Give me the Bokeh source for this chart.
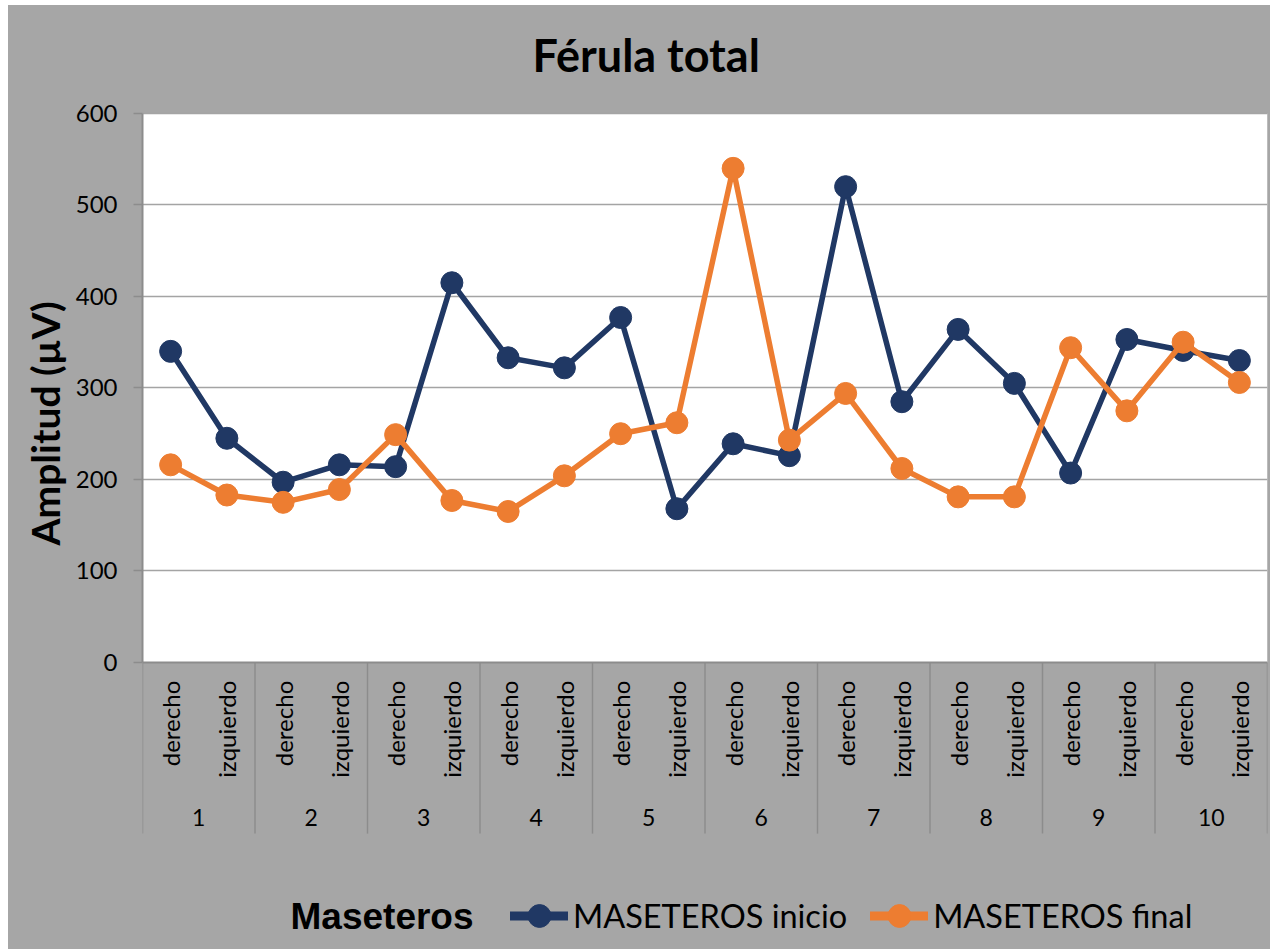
import math
from bokeh.plotting import figure
from bokeh.models import (FactorRange, Range1d, FixedTicker, BoxAnnotation, Span,
                          Legend, LegendItem, Label, Title, ColumnDataSource)
from bokeh.core.properties import value
from bokeh.embed import file_html
from bokeh.resources import INLINE

# ---------------- data ----------------
groups = ["1", "2", "3", "4", "5", "6", "7", "8", "9", "10"]
sides = ["derecho", "izquierdo"]
inicio = [340, 245, 197, 216, 214, 415, 333, 322, 377, 168,
          239, 226, 520, 285, 364, 305, 207, 353, 341, 330]
final = [216, 183, 175, 189, 249, 177, 165, 204, 250, 262,
         540, 243, 294, 212, 181, 181, 344, 275, 350, 306]
y_ticks = [0, 100, 200, 300, 400, 500, 600]
title_text = "Férula total"
y_title = "Amplitud (µV)"
x_title = "Maseteros"
series_names = ["MASETEROS inicio", "MASETEROS final"]

factors = [(g, s) for g in groups for s in sides]

BG = "#a6a6a6"
AXIS = "#8c8c8c"
GRID = "#a4a4a4"
BLUE = "#203864"
ORANGE = "#ed7d31"
FONT = "Lato"

# frame covers the whole chart area; the white plot region is 0..600
p = figure(x_range=FactorRange(*factors, factor_padding=0, group_padding=0, range_padding=0),
           y_range=Range1d(-313.7, 718.0),
           frame_width=1125, frame_height=944,
           min_border_left=134, min_border_right=3, min_border_top=0, min_border_bottom=0,
           margin=(5, 0, 0, 8),
           x_axis_location=None, output_backend="svg", toolbar_location=None)
p.title.visible = False

# gray under everything (no seams between frame and border)
p.styles = {"background-color": BG}
p.background_fill_alpha = 0
p.border_fill_color = BG
p.outline_line_color = None

# white plotting area (lowest level), grid above it
p.add_layout(BoxAnnotation(bottom=y_ticks[0], top=y_ticks[-1], fill_color="white", fill_alpha=1,
                           line_color=None, level="image"))
p.xgrid.visible = False
p.ygrid.ticker = FixedTicker(ticks=y_ticks[1:])
p.ygrid.grid_line_color = GRID
p.ygrid.grid_line_width = 1.5
p.add_layout(Span(location=0, dimension="width", line_color=AXIS, line_width=2))

# y axis
ax = p.yaxis[0]
ax.ticker = FixedTicker(ticks=y_ticks)
ax.bounds = (y_ticks[0], y_ticks[-1])
ax.axis_line_color = AXIS
ax.axis_line_width = 2
ax.major_tick_line_color = AXIS
ax.major_tick_line_width = 1.5
ax.major_tick_out = 9
ax.major_tick_in = 0
ax.minor_tick_line_color = None
ax.major_label_standoff = 16
ax.major_label_text_font = FONT
ax.major_label_text_font_size = "24px"
ax.major_label_text_color = "black"

# category separators
bounds_x = [(g, sides[0], -0.5) for g in groups] + [(groups[-1], sides[-1], 0.5)]
p.segment(x0=bounds_x, x1=bounds_x, y0=[0] * len(bounds_x), y1=[-187] * len(bounds_x),
          line_color=AXIS, line_width=1.5)

# category labels
p.text(x=factors, y=[-20] * len(factors), text=[f[1] for f in factors],
       angle=math.pi / 2, text_align="right", text_baseline="middle",
       text_font=value(FONT), text_font_size="24px", text_color="black")
p.text(x=groups, y=[-169.5] * len(groups), text=groups,
       text_align="center", text_baseline="middle",
       text_font=value(FONT), text_font_size="23px", text_color="black")

# series
src = ColumnDataSource(dict(x=factors, inicio=inicio, final=final))
l1 = p.line("x", "inicio", source=src, line_color=BLUE, line_width=5.5, line_join="round")
s1 = p.scatter("x", "inicio", source=src, size=22, fill_color=BLUE, line_color=BLUE)
l2 = p.line("x", "final", source=src, line_color=ORANGE, line_width=5.5, line_join="round")
s2 = p.scatter("x", "final", source=src, size=22, fill_color=ORANGE, line_color=ORANGE)

# legend-only line samples (thicker, as in the reference legend); NaN keeps them off the plot
dummy = ColumnDataSource(dict(x=[factors[0]], y=[float("nan")]))
k1 = p.line("x", "y", source=dummy, line_color=BLUE, line_width=9, line_cap="round")
k2 = p.line("x", "y", source=dummy, line_color=ORANGE, line_width=9, line_cap="round")

legend = Legend(items=[LegendItem(label=series_names[0], renderers=[k1, s1]),
                       LegendItem(label=series_names[1], renderers=[k2, s2])],
                orientation="horizontal", location=(368, 5),
                glyph_width=58, glyph_height=57, label_standoff=5, spacing=23,
                padding=0, margin=0, border_line_color=None, background_fill_alpha=0,
                label_text_font=FONT, label_text_font_size="32.5px", label_text_color="black")
p.add_layout(legend)

p.add_layout(Label(x=148, y=33, x_units="screen", y_units="screen", text=x_title,
                   text_font="Liberation Sans", text_font_style="bold",
                   text_font_size="37px", text_baseline="middle", text_color="black"))

# chart title
p.add_layout(Label(x=390, y=895, x_units="screen", y_units="screen", text=title_text,
                   text_font=FONT, text_font_style="bold", text_font_size="45px",
                   text_baseline="alphabetic", text_color="black"))

p.add_layout(Title(text=y_title, align="left", offset=404, standoff=10,
                   text_font=FONT, text_font_style="bold", text_font_size="39px",
                   text_color="black"), "left")

open("out.html", "w").write(file_html(p, INLINE))
